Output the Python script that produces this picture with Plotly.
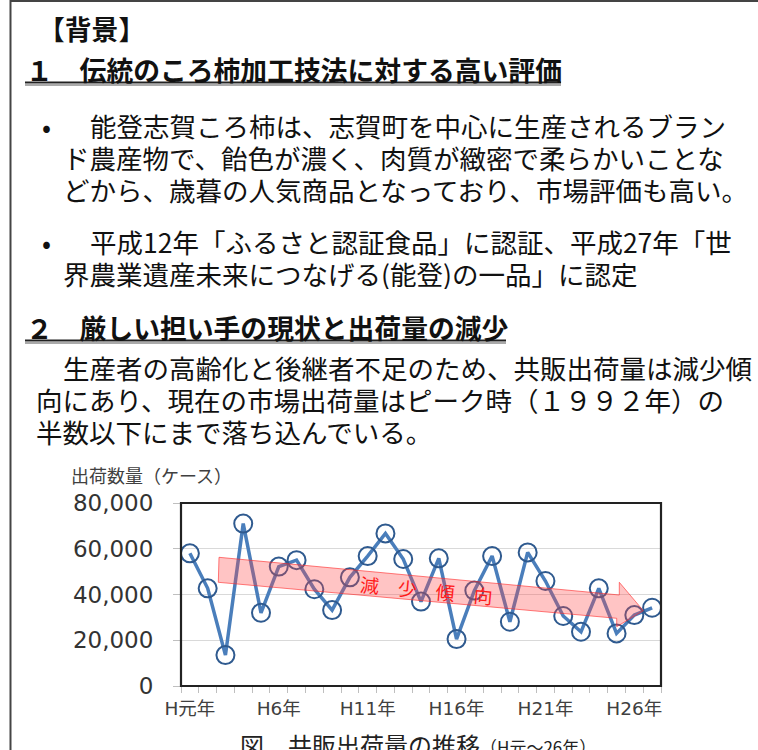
import plotly.graph_objects as go

# ---- data ----
years = ["H元年"] + [f"H{i}年" for i in range(2, 28)]
shipments = [58000, 42700, 13500, 71000, 32000, 52200, 55000, 42300, 33200, 47500,
             56800, 66700, 55500, 36900, 55800, 20500, 41700, 56800, 28100, 58400,
             45900, 30600, 23700, 42700, 23000, 31000, 34200]
label_every = 5
y_ticks = [0, 20000, 40000, 60000, 80000]

# ---- layout geometry (pixels) ----
W, H = 758, 750
L, R, T, B = 181, 661, 503, 686

def px(x):
    return (x - L) / (R - L)

def py(y):
    return (B - y) / (B - T)

ticktext = [y if i % label_every == 0 else "" for i, y in enumerate(years)]

fig = go.Figure()
fig.add_trace(go.Scatter(
    x=years, y=shipments, mode="lines+markers",
    line=dict(color="#4a7ebb", width=3.5),
    marker=dict(symbol="circle-open", size=18, color="#2f5a8f", line=dict(width=2)),
    hoverinfo="x+y", showlegend=False,
))

CJK = "Noto Sans CJK JP"
BODY = dict(family=CJK, size=26.5, color="#111111")
HEAD = dict(family=CJK, size=26.8, color="#111111", weight="bold")

anns = []
def text(x, y, s, font, anchor="left", h=None):
    a = dict(x=px(x), y=py(y), xref="paper", yref="paper", text=s,
             showarrow=False, xanchor=anchor, yanchor="middle", font=font)
    if h:
        a["height"] = h
        a["valign"] = "middle"
    anns.append(a)

# title and headings
text(36, 28, "【背景】", HEAD)
text(24, 69, "１　伝統のころ柿加工技法に対する高い評価", HEAD)
text(24, 327, "２　厳しい担い手の現状と出荷量の減少", HEAD)

# bullets
text(40, 125, "•", BODY, h=31)
text(88, 125, "能登志賀ころ柿は、志賀町を中心に生産されるブラン", BODY, h=31)
text(61, 157, "ド農産物で、飴色が濃く、肉質が緻密で柔らかいことな", BODY, h=31)
text(61, 189, "どから、歳暮の人気商品となっており、市場評価も高い。", BODY, h=31)
text(40, 241, "•", BODY, h=31)
text(88, 241, "平成12年「ふるさと認証食品」に認証、平成27年「世", BODY, h=31)
text(61, 273, "界農業遺産未来につなげる(能登)の一品」に認定", BODY, h=31)

# paragraph
text(61, 367, "生産者の高齢化と後継者不足のため、共販出荷量は減少傾", BODY, h=31)
text(34, 399, "向にあり、現在の市場出荷量はピーク時（１９９２年）の", BODY, h=31)
text(34, 431, "半数以下にまで落ち込んでいる。", BODY, h=31)

# chart texts
text(69, 475, "出荷数量（ケース）", dict(family=CJK, size=18, color="#404040"))
text(238, 744, "図　共販出荷量の推移", dict(family=CJK, size=24, color="#222222"))
text(478, 746, "（H元～26年）", dict(family=CJK, size=17, color="#222222"))

# trend arrow label
anns.append(dict(x=px(426), y=py(589), xref="paper", yref="paper",
                 text="減　少　傾　向", showarrow=False, textangle=5.5,
                 xanchor="center", yanchor="middle",
                 font=dict(family=CJK, size=19, color="#ff1a1a")))

shapes = []
# page frame (left + top edges as one open polyline)
frame = f"M {px(10.5):.5f},{py(750):.5f} L {px(10.5):.5f},{py(1):.5f} L {px(758):.5f},{py(1):.5f}"
shapes.append(dict(type="path", xref="paper", yref="paper", path=frame,
                   line=dict(color="#444444", width=2)))
# heading underlines
for x1, yline in [(561, 82.5), (506, 340.5)]:
    shapes.append(dict(type="line", xref="paper", yref="paper", x0=px(25), x1=px(x1),
                       y0=py(yline + 2.5), y1=py(yline + 2.5), line=dict(color="#aaaaaa", width=2)))
    shapes.append(dict(type="line", xref="paper", yref="paper", x0=px(25), x1=px(x1),
                       y0=py(yline), y1=py(yline), line=dict(color="#222222", width=2)))

# arrow
pts = [(219, 557.3), (619.3, 595), (619.3, 582.3), (643.3, 610.7), (616.7, 626.7),
       (616.7, 618.3), (218.3, 582.3)]
path = "M " + " L ".join(f"{px(x):.5f},{py(y):.5f}" for x, y in pts) + " Z"
shapes.append(dict(type="path", xref="paper", yref="paper", path=path,
                   fillcolor="rgba(255,70,70,0.32)", line=dict(color="rgba(255,40,40,0.6)", width=1),
                   layer="above"))
# plot border
shapes.append(dict(type="rect", xref="paper", yref="paper", x0=0, x1=1, y0=0, y1=1,
                   line=dict(color="#222222", width=2.2), layer="above"))

fig.update_layout(
    width=W, height=H,
    margin=dict(l=L, r=W - R, t=T, b=H - B, pad=0),
    paper_bgcolor="white", plot_bgcolor="white",
    annotations=anns, shapes=shapes,
    xaxis=dict(type="category", tickmode="array", tickvals=years, ticktext=ticktext,
               range=[-0.5, len(years) - 0.5], tickangle=0,
               tickson="boundaries", ticks="outside", ticklen=6, tickcolor="#bfbfbf",
               showgrid=False, showline=False, zeroline=False, fixedrange=True,
               tickfont=dict(family="DejaVu Sans, " + CJK, size=18.5, color="#404040"),
               ticklabelstandoff=9),
    yaxis=dict(range=[0, 80000], tickmode="array", tickvals=y_ticks, tickformat=",",
               ticks="outside", ticklen=7, tickcolor="#bfbfbf",
               showgrid=True, gridcolor="#d9d9d9", gridwidth=1,
               showline=False, zeroline=False, fixedrange=True,
               tickfont=dict(family="DejaVu Sans", size=23, color="#333333"),
               ticklabelstandoff=15),
)

fig.write_html("out.html", config={"displayModeBar": False})
